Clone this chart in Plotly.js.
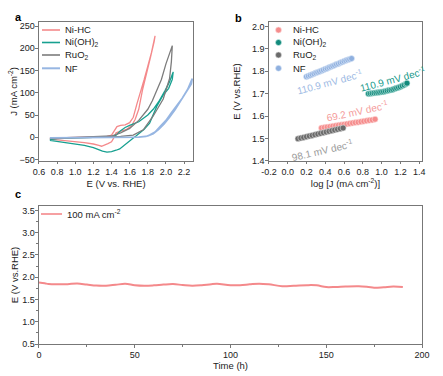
<!DOCTYPE html>
<html><head><meta charset="utf-8">
<script src="https://cdn.plot.ly/plotly-3.0.1.min.js"></script>
<style>html,body{margin:0;padding:0;background:#fff}#chart{width:443px;height:376px}</style>
</head><body><div id="chart"></div>
<script>
// ---- Panel a: CV curves (E vs RHE, J mA cm-2) ----
const seriesNames = ['Ni-HC','Ni(OH)<sub>2</sub>','RuO<sub>2</sub>','NF'];
const niHC_E = [0.72,0.8,1.0,1.2,1.35,1.40,1.43,1.46,1.50,1.55,1.60,1.64,1.68,1.72,1.76,1.80,1.84,1.88,
                1.87,1.83,1.78,1.74,1.70,1.66,1.62,1.56,1.50,1.45,1.42,1.40,1.36,1.32,1.29,1.26,1.20,1.10,1.00,0.90,0.80,0.72];
const niHC_J = [-2,-1,0,1,2,5,15,24,27,28,33,45,75,100,130,160,190,228,
                215,180,140,105,63,40,26,17,14,10,-3,-10,-14,-18,-20,-18,-15,-12,-10,-8,-6,-4];
const niOH_E = [0.72,0.8,1.0,1.2,1.4,1.45,1.50,1.55,1.60,1.70,1.80,1.86,1.92,1.99,2.04,2.08,
                2.07,2.03,1.97,1.90,1.82,1.76,1.71,1.67,1.63,1.58,1.53,1.49,1.45,1.40,1.35,1.30,1.25,1.20,1.10,1.00,0.90,0.80,0.72];
const niOH_J = [-5,-3,-1,0,1,5,15,22,27,35,50,63,80,105,125,147,
                130,110,95,70,32,18,9,3,-3,-12,-20,-26,-29,-32,-33,-31,-27,-23,-18,-15,-12,-9,-7];
const ruO2_E = [0.72,0.8,1.0,1.2,1.4,1.5,1.6,1.7,1.75,1.80,1.85,1.90,1.95,2.00,2.04,2.07,
                2.06,2.04,1.97,1.86,1.75,1.64,1.50,1.40,1.20,1.00,0.80,0.72];
const ruO2_J = [-3,-1,0,1,3,10,20,38,50,63,82,104,130,165,190,206,
                170,132,86,48,17,5,2,1,0,-1,-2,-3];
const nf_E = [0.72,1.0,1.4,1.7,1.78,1.82,1.88,1.94,2.00,2.06,2.12,2.18,2.24,2.29,
              2.28,2.22,2.16,2.10,2.04,1.98,1.92,1.86,1.80,1.70,1.40,1.00,0.72];
const nf_J = [-1,0,0,0.5,2,5,12,25,38,55,72,88,108,132,
              120,100,80,62,45,30,18,8,3,0.5,0,-0.5,-1];

// ---- Panel b: Tafel plots ----
const tafNF_x = [0.20,0.22,0.24,0.26,0.28,0.30,0.32,0.34,0.36,0.38,0.40,0.42,0.44,0.46,0.48,0.50,0.52,0.54,0.56,0.58,0.60,0.62,0.64,0.66,0.68];
const tafNF_y = [1.776,1.779,1.782,1.786,1.789,1.793,1.796,1.799,1.803,1.806,1.810,1.813,1.817,1.820,1.824,1.827,1.831,1.834,1.838,1.841,1.845,1.848,1.851,1.854,1.857];
const tafOH_x = [0.86,0.88,0.90,0.92,0.94,0.96,0.98,1.00,1.02,1.04,1.06,1.08,1.10,1.12,1.14,1.16,1.18,1.20,1.22,1.24,1.26,1.27];
const tafOH_y = [1.700,1.701,1.702,1.703,1.704,1.705,1.706,1.708,1.709,1.711,1.713,1.715,1.717,1.719,1.722,1.725,1.728,1.731,1.735,1.739,1.744,1.747];
const tafHC_x = [0.36,0.39,0.42,0.45,0.48,0.51,0.54,0.57,0.60,0.63,0.66,0.69,0.72,0.75,0.78,0.81,0.84,0.87,0.90,0.93];
const tafHC_y = [1.547,1.549,1.551,1.553,1.555,1.557,1.559,1.561,1.563,1.565,1.567,1.569,1.571,1.573,1.575,1.577,1.579,1.581,1.583,1.586];
const tafRu_x = [0.11,0.14,0.17,0.20,0.23,0.26,0.29,0.32,0.35,0.38,0.41,0.44,0.47,0.50,0.53,0.56,0.59];
const tafRu_y = [1.499,1.502,1.505,1.508,1.511,1.514,1.517,1.520,1.523,1.526,1.529,1.532,1.535,1.538,1.541,1.544,1.547];
const slopeLabels = ["110.9 mV dec<sup>-1</sup>","110.9 mV dec<sup>-1</sup>","69.2 mV dec<sup>-1</sup>","98.1 mV dec<sup>-1</sup>"];

// ---- Panel c: stability ----
const stabName = '100 mA cm<sup>-2</sup>';
const time_h = [0,3,5,10,15,20,25,30,35,40,45,50,55,60,65,70,75,80,85,90,93,100,105,110,115,120,127,133,140,145,150,155,160,167,172,175,180,185,190];
const stabE  = [1.884,1.865,1.846,1.840,1.845,1.858,1.835,1.812,1.810,1.830,1.852,1.822,1.810,1.818,1.835,1.846,1.825,1.808,1.820,1.845,1.852,1.820,1.822,1.840,1.855,1.840,1.800,1.808,1.822,1.818,1.778,1.782,1.792,1.798,1.780,1.765,1.775,1.790,1.780];

const lineCol = ['#F4898B','#17A090','#7C7C7C','#97B6E2'];
const mkCol = ['#F58C8C','#128A7C','#6A6A6A','#8FB0DF'];
const mkEdge = ['#fde3e3','#cfeee9','#dddddd','#e6eefa'];
const F = 'Arial, "Liberation Sans", sans-serif';

const cvX = [niHC_E,niOH_E,ruO2_E,nf_E], cvY = [niHC_J,niOH_J,ruO2_J,nf_J];
const tfX = [tafHC_x,tafOH_x,tafRu_x,tafNF_x], tfY = [tafHC_y,tafOH_y,tafRu_y,tafNF_y];
const traces = [];
for (let i=0;i<4;i++) traces.push({x:cvX[i],y:cvY[i],mode:'lines',name:seriesNames[i],showlegend:false,
  line:{color:lineCol[i],width:i===3?1.7:1.3},xaxis:'x',yaxis:'y'});
for (let i=0;i<4;i++) traces.push({x:tfX[i],y:tfY[i],mode:'markers',name:seriesNames[i],showlegend:false,
  marker:{color:mkCol[i],size:6,line:{color:mkEdge[i],width:0.6}},xaxis:'x2',yaxis:'y2'});
traces.push({x:time_h,y:stabE,mode:'lines',name:stabName,showlegend:false,line:{color:'#F4898B',width:2,shape:'spline'},xaxis:'x3',yaxis:'y3'});

const ax = {showline:true,mirror:true,linecolor:'#777',linewidth:1,ticks:'outside',ticklen:2.5,tickcolor:'#777',
  showgrid:false,zeroline:false,tickfont:{family:F,size:9,color:'#222'},automargin:false};
const axY = Object.assign({},ax,{ticklabelstandoff:-1});
const tfont = {family:F,size:9.5,color:'#222'};
const W=443,H=376;
const px=(v)=>v/W, py=(v)=>1-v/H;

// legend-like keys (text + sample marks) per panel
const legY = [30,42.5,55,68.3];
const shapes = [], ann = [];
for (let i=0;i<4;i++){
  shapes.push({type:'line',xref:'paper',yref:'paper',x0:px(42),x1:px(60),y0:py(legY[i]),y1:py(legY[i]),line:{color:lineCol[i],width:i===3?2:1.6}});
  ann.push({text:seriesNames[i],xref:'paper',yref:'paper',x:px(63),y:py(legY[i]),xanchor:'left',yanchor:'middle',showarrow:false,font:{family:F,size:9.5,color:'#222'}});
  shapes.push({type:'circle',xref:'paper',yref:'paper',xsizemode:'pixel',ysizemode:'pixel',xanchor:px(278.5),yanchor:py(legY[i]),x0:-3,x1:3,y0:-3,y1:3,fillcolor:mkCol[i],line:{color:mkEdge[i],width:0.6}});
  ann.push({text:seriesNames[i],xref:'paper',yref:'paper',x:px(291),y:py(legY[i]),xanchor:'left',yanchor:'middle',showarrow:false,font:{family:F,size:9.5,color:'#222'}});
}
shapes.push({type:'line',xref:'paper',yref:'paper',x0:px(41),x1:px(62),y0:py(214),y1:py(214),line:{color:'#F4898B',width:1.6}});
ann.push({text:stabName,xref:'paper',yref:'paper',x:px(64.5),y:py(214),xanchor:'left',yanchor:'middle',showarrow:false,font:{family:F,size:9.5,color:'#222'}});

ann.push(
  {text:'<b>a</b>',xref:'paper',yref:'paper',x:px(13),y:py(9.5),showarrow:false,font:{family:F,size:11,color:'#000'}},
  {text:'<b>b</b>',xref:'paper',yref:'paper',x:px(239),y:py(10),showarrow:false,font:{family:F,size:11,color:'#000'}},
  {text:'<b>c</b>',xref:'paper',yref:'paper',x:px(13),y:py(194),showarrow:false,font:{family:F,size:11,color:'#000'}},
  {text:slopeLabels[0],xref:'x2',yref:'y2',x:0.44,y:1.752,showarrow:false,textangle:-15,font:{family:F,size:10,color:'#9DB9E3'}},
  {text:slopeLabels[1],xref:'x2',yref:'y2',x:1.12,y:1.765,showarrow:false,textangle:-15,font:{family:F,size:10,color:'#16998A'}},
  {text:slopeLabels[2],xref:'x2',yref:'y2',x:0.74,y:1.621,showarrow:false,textangle:-12,font:{family:F,size:10,color:'#F49A9A'}},
  {text:slopeLabels[3],xref:'x2',yref:'y2',x:0.37,y:1.449,showarrow:false,textangle:-13,font:{family:F,size:10,color:'#9a9a9a'}}
);

const layout = {
  width:W,height:H,margin:{l:0,r:0,t:0,b:0},paper_bgcolor:'#fff',plot_bgcolor:'#fff',showlegend:false,
  font:{family:F,size:9,color:'#222'},
  xaxis:Object.assign({},ax,{domain:[0.088,0.436],range:[0.6,2.3],tickvals:[0.6,0.8,1.0,1.2,1.4,1.6,1.8,2.0,2.2],ticktext:['0.6','0.8','1.0','1.2','1.4','1.6','1.8','2.0','2.2'],anchor:'y',
     title:{text:'E (V vs. RHE)',font:tfont,standoff:4}}),
  yaxis:Object.assign({},axY,{domain:[0.572,0.9415],range:[-53,259],tickvals:[-50,0,50,100,150,200,250],anchor:'x',
     title:{text:'J (mA cm<sup>-2</sup>)',font:tfont,standoff:0}}),
  xaxis2:Object.assign({},ax,{domain:[0.607,0.9526],range:[-0.2,1.43],tickvals:[-0.2,0,0.2,0.4,0.6,0.8,1.0,1.2,1.4],ticktext:['-0.2','0.0','0.2','0.4','0.6','0.8','1.0','1.2','1.4'],anchor:'y2',
     title:{text:'log [J (mA cm<sup>-2</sup>)]',font:tfont,standoff:4}}),
  yaxis2:Object.assign({},axY,{domain:[0.572,0.9415],range:[1.4,2.02],tickvals:[1.4,1.5,1.6,1.7,1.8,1.9,2.0],ticktext:['1.4','1.5','1.6','1.7','1.8','1.9','2.0'],anchor:'x2',
     title:{text:'E (V vs.RHE)',font:tfont,standoff:9}}),
  xaxis3:Object.assign({},ax,{domain:[0.088,0.9526],range:[0,200],tickvals:[0,50,100,150,200],anchor:'y3',
     minor:{ticks:'outside',ticklen:2,tickcolor:'#777',dtick:25,tick0:0},
     title:{text:'Time (h)',font:tfont,standoff:3}}),
  yaxis3:Object.assign({},axY,{domain:[0.0851,0.4521],range:[0.5,3.6],tickvals:[0.5,1.0,1.5,2.0,2.5,3.0,3.5],ticktext:['0.5','1.0','1.5','2.0','2.5','3.0','3.5'],anchor:'x3',
     minor:{ticks:'outside',ticklen:2,tickcolor:'#777',dtick:0.25,tick0:0.5},
     title:{text:'E (V vs.RHE)',font:tfont,standoff:1}}),
  shapes:shapes,
  annotations:ann
};
Plotly.newPlot('chart',traces,layout,{staticPlot:true});
</script></body></html>
